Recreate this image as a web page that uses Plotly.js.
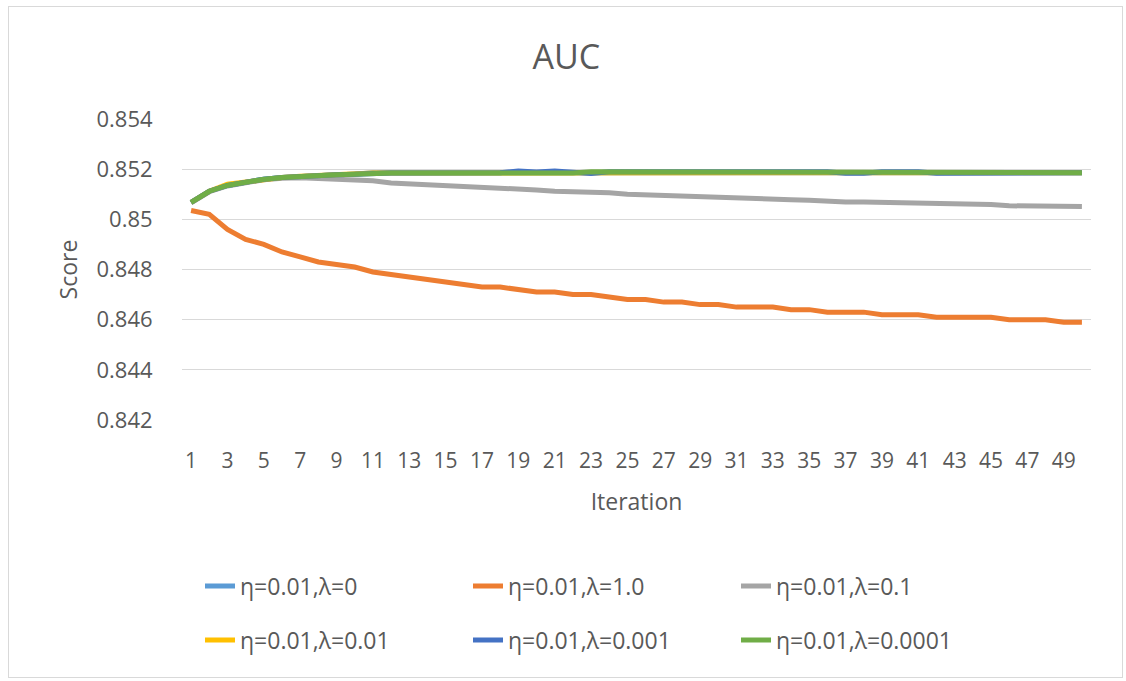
<!DOCTYPE html>
<html>
<head>
<meta charset="utf-8">
<script src="https://cdn.plot.ly/plotly-3.0.1.min.js"></script>
<style>
  html, body { margin: 0; padding: 0; background: #ffffff; }
  #wrap { position: relative; width: 1126px; height: 681px; }
  #chart { position: absolute; left: 0; top: 0; width: 1126px; height: 681px; }
  #frame { position: absolute; left: 8px; top: 6px; width: 1115px; height: 672px;
           border: 1.5px solid #D9D9D9; pointer-events: none; box-sizing: border-box; }
</style>
</head>
<body>
<div id="wrap">
  <div id="chart"></div>
  <div id="frame"></div>
</div>
<script>
const iterations = [1,2,3,4,5,6,7,8,9,10,11,12,13,14,15,16,17,18,19,20,21,22,23,24,25,26,27,28,29,30,31,32,33,34,35,36,37,38,39,40,41,42,43,44,45,46,47,48,49,50];
const xTickVals = [1,3,5,7,9,11,13,15,17,19,21,23,25,27,29,31,33,35,37,39,41,43,45,47,49];
const xTickLabels = ["1","3","5","7","9","11","13","15","17","19","21","23","25","27","29","31","33","35","37","39","41","43","45","47","49"];
const yTickVals = [0.842,0.844,0.846,0.848,0.85,0.852,0.854];
const yTickLabels = ["0.842","0.844","0.846","0.848","0.85","0.852","0.854"];

const seriesNames = ["η=0.01,λ=0","η=0.01,λ=1.0","η=0.01,λ=0.1","η=0.01,λ=0.01","η=0.01,λ=0.001","η=0.01,λ=0.0001"];
const seriesColors = ["#5B9BD5","#ED7D31","#A5A5A5","#FFC000","#4472C4","#70AD47"];

const lambda0 = [0.85068,0.85112,0.85135,0.85150,0.85160,0.85167,0.85172,0.85176,0.85178,0.85180,0.85186,0.85186,0.85186,0.85186,0.85186,0.85186,0.85186,0.85186,0.85188,0.85188,0.85188,0.85188,0.85188,0.85188,0.85188,0.85188,0.85188,0.85188,0.85188,0.85188,0.85188,0.85188,0.85188,0.85188,0.85188,0.85188,0.85188,0.85188,0.85188,0.85188,0.85188,0.85188,0.85188,0.85188,0.85188,0.85188,0.85188,0.85186,0.85186,0.85186];
const lambda1 = [0.85035,0.85020,0.84960,0.84920,0.84900,0.84870,0.84850,0.84830,0.84820,0.84810,0.84790,0.84780,0.84770,0.84760,0.84750,0.84740,0.84730,0.84730,0.84720,0.84710,0.84710,0.84700,0.84700,0.84690,0.84680,0.84680,0.84670,0.84670,0.84660,0.84660,0.84650,0.84650,0.84650,0.84640,0.84640,0.84630,0.84630,0.84630,0.84620,0.84620,0.84620,0.84610,0.84610,0.84610,0.84610,0.84600,0.84600,0.84600,0.84590,0.84590];
const lambda01 = [0.85066,0.85110,0.85133,0.85148,0.85158,0.85164,0.85166,0.85163,0.85160,0.85158,0.85154,0.85145,0.85142,0.85140,0.85136,0.85132,0.85130,0.85124,0.85120,0.85117,0.85112,0.85110,0.85109,0.85106,0.85100,0.85097,0.85096,0.85092,0.85089,0.85089,0.85087,0.85081,0.85079,0.85078,0.85076,0.85071,0.85069,0.85069,0.85068,0.85064,0.85063,0.85062,0.85062,0.85061,0.85059,0.85054,0.85052,0.85052,0.85052,0.85051];
const lambda001 = [0.85068,0.85112,0.85140,0.85150,0.85160,0.85167,0.85172,0.85176,0.85178,0.85180,0.85185,0.85185,0.85185,0.85185,0.85185,0.85185,0.85185,0.85185,0.85185,0.85185,0.85185,0.85185,0.85184,0.85184,0.85184,0.85184,0.85184,0.85184,0.85184,0.85184,0.85184,0.85184,0.85184,0.85184,0.85184,0.85184,0.85184,0.85184,0.85184,0.85184,0.85184,0.85184,0.85184,0.85184,0.85184,0.85184,0.85185,0.85186,0.85186,0.85186];
const lambda0001 = [0.85068,0.85112,0.85135,0.85150,0.85160,0.85167,0.85172,0.85176,0.85178,0.85180,0.85185,0.85185,0.85185,0.85185,0.85185,0.85185,0.85185,0.85186,0.85193,0.85189,0.85193,0.85186,0.85183,0.85190,0.85190,0.85190,0.85190,0.85190,0.85190,0.85190,0.85190,0.85190,0.85190,0.85190,0.85190,0.85190,0.85184,0.85184,0.85190,0.85190,0.85190,0.85184,0.85184,0.85184,0.85184,0.85184,0.85184,0.85186,0.85186,0.85186];
const lambda00001 = [0.85068,0.85112,0.85135,0.85150,0.85160,0.85167,0.85172,0.85176,0.85178,0.85180,0.85185,0.85185,0.85185,0.85185,0.85185,0.85185,0.85185,0.85185,0.85185,0.85185,0.85185,0.85185,0.85190,0.85190,0.85190,0.85190,0.85190,0.85190,0.85190,0.85190,0.85190,0.85190,0.85190,0.85190,0.85190,0.85190,0.85190,0.85190,0.85190,0.85190,0.85190,0.85190,0.85190,0.85190,0.85190,0.85190,0.85190,0.85186,0.85186,0.85186];

const seriesValues = [lambda0, lambda1, lambda01, lambda001, lambda0001, lambda00001];
const legendFor = ["legend","legend","legend","legend2","legend2","legend2"];

const FONT = "Open Sans, Liberation Sans, sans-serif";
const TXT = "#595959";

const traces = seriesNames.map((name, i) => ({
  type: "scatter",
  mode: "lines",
  name: name,
  x: iterations,
  y: seriesValues[i],
  line: { color: seriesColors[i], width: 5 },
  legend: legendFor[i],
  hoverinfo: "x+y+name"
}));

const legendCommon = {
  orientation: "h",
  xref: "container", yref: "container",
  xanchor: "left", yanchor: "middle",
  entrywidth: 223, entrywidthmode: "pixels",
  font: { family: FONT, size: 23, color: TXT },
  bgcolor: "rgba(0,0,0,0)",
  itemclick: false, itemdoubleclick: false
};

const layout = {
  width: 1126, height: 681,
  paper_bgcolor: "#ffffff", plot_bgcolor: "#ffffff",
  margin: { l: 182, r: 35, t: 119, b: 261 },
  font: { family: FONT, color: TXT },
  title: {
    text: "AUC",
    font: { family: FONT, size: 34, color: TXT },
    x: 0.503, xanchor: "center",
    y: 1 - 57 / 681, yanchor: "middle"
  },
  xaxis: {
    range: [0.5, 50.5],
    tickmode: "array", tickvals: xTickVals, ticktext: xTickLabels,
    showgrid: false, zeroline: false, showline: false,
    ticks: "outside", ticklen: 22, tickcolor: "rgba(0,0,0,0)",
    tickfont: { family: FONT, size: 21, color: TXT },
    title: { text: "Iteration", font: { family: FONT, size: 23, color: TXT }, standoff: 20 },
    fixedrange: true
  },
  yaxis: {
    range: [0.842, 0.854],
    tickmode: "array", tickvals: yTickVals, ticktext: yTickLabels,
    showgrid: true, gridcolor: "#D9D9D9", gridwidth: 1.3,
    zeroline: false, showline: false,
    ticks: "outside", ticklen: 24, tickcolor: "rgba(0,0,0,0)",
    tickfont: { family: FONT, size: 22, color: TXT },
    title: { text: "Score", font: { family: FONT, size: 23, color: TXT }, standoff: 12 },
    fixedrange: true
  },
  showlegend: true,
  legend: Object.assign({}, legendCommon, { x: 200 / 1126, y: 1 - 586 / 681 }),
  legend2: Object.assign({}, legendCommon, { x: 200 / 1126, y: 1 - 640 / 681 })
};

Plotly.newPlot("chart", traces, layout, { displayModeBar: false, responsive: false });
</script>
</body>
</html>
